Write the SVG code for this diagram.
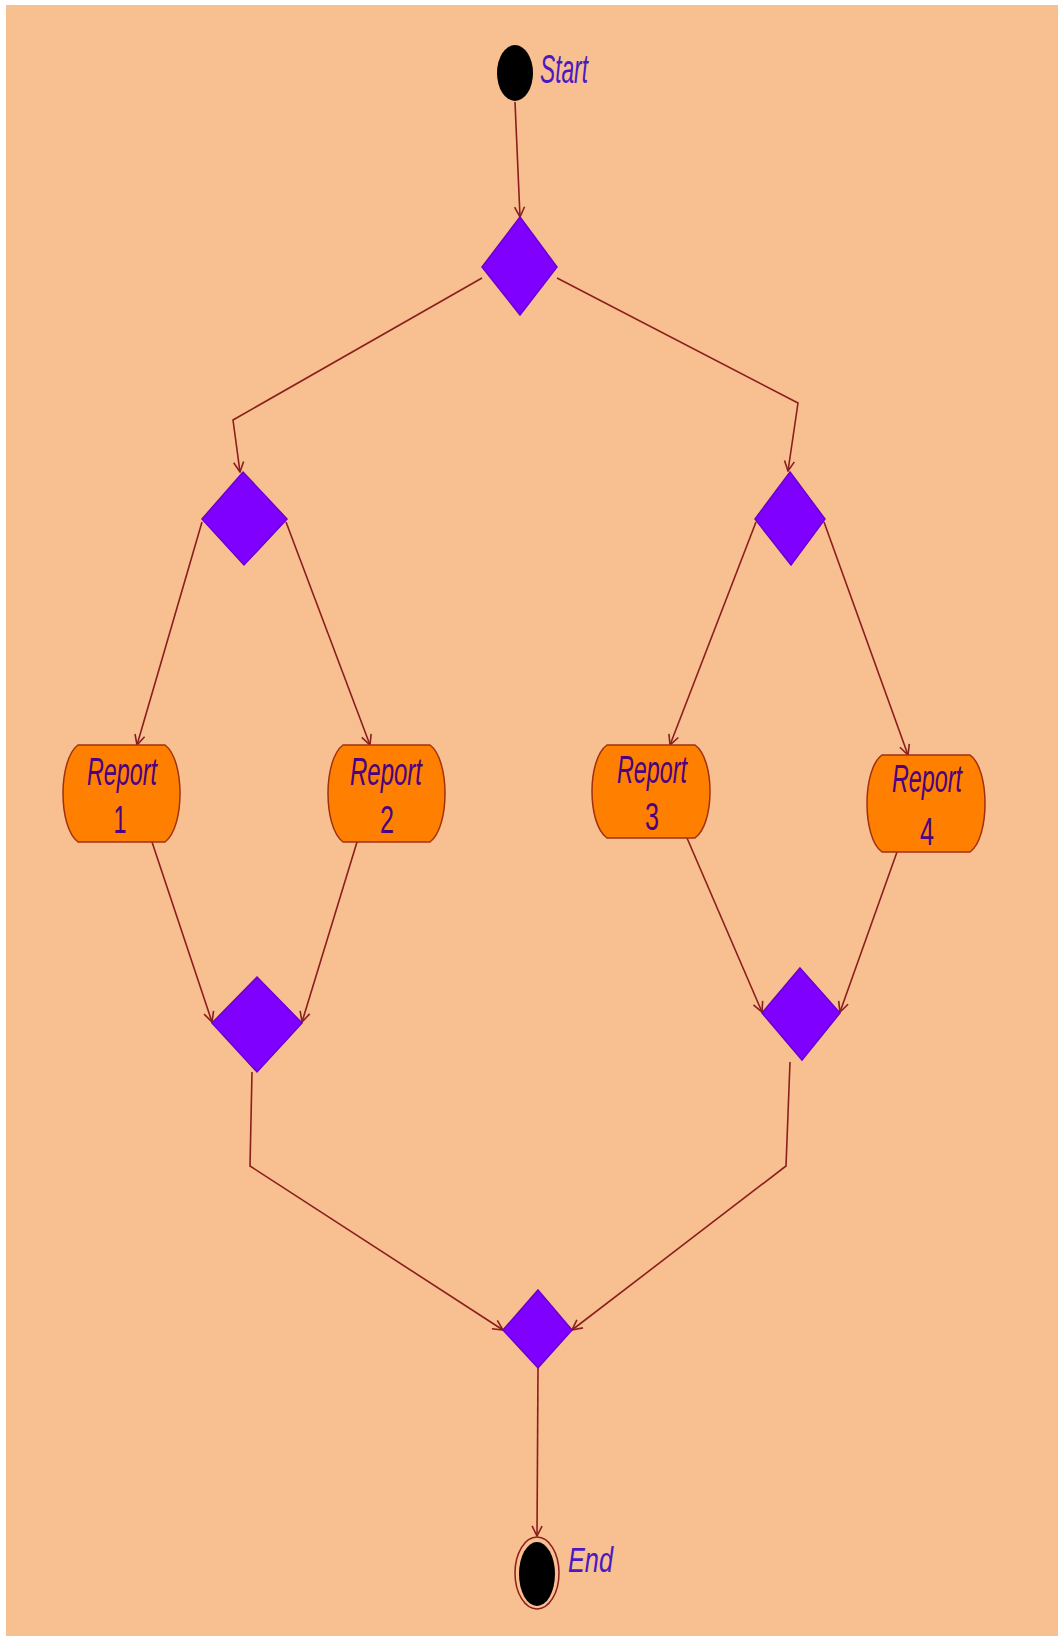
<svg xmlns="http://www.w3.org/2000/svg" width="1058" height="1636" viewBox="0 0 1058 1636">
<defs>
<style>
.bg{fill:#F8BF90}
.dia{fill:#8000FF;stroke:#6A00D0;stroke-width:1.5}
.act{fill:#FF8000;stroke:#A03010;stroke-width:1.5}
.edge{fill:none;stroke:#8B1E1E;stroke-width:1.6}
.lbl{font-family:"Liberation Sans",Arial,sans-serif;font-style:italic;fill:#4A1AC0}
.rt{font-family:"Liberation Sans",Arial,sans-serif;fill:#4A0080;text-anchor:middle}
.it{font-style:italic}
</style>
<marker id="arr" viewBox="0 0 12 12" refX="11" refY="6" markerWidth="12" markerHeight="12" markerUnits="userSpaceOnUse" orient="auto">
<path d="M1,1 L11,6 L1,11" fill="none" stroke="#8B1E1E" stroke-width="1.6"/>
</marker>
</defs>
<rect x="0" y="0" width="1058" height="1636" fill="#FFFFFF"/>
<rect class="bg" x="6" y="5" width="1052" height="1631"/>

<g id="connectors">
<polyline class="edge" points="515,102 520,217" marker-end="url(#arr)"/>
<polyline class="edge" points="482,278 233,420 240,472" marker-end="url(#arr)"/>
<polyline class="edge" points="557,278 798,403 788,471" marker-end="url(#arr)"/>
<polyline class="edge" points="202,522 137,745" marker-end="url(#arr)"/>
<polyline class="edge" points="286,522 370,745" marker-end="url(#arr)"/>
<polyline class="edge" points="756,522 670,745" marker-end="url(#arr)"/>
<polyline class="edge" points="824,522 908,755" marker-end="url(#arr)"/>
<polyline class="edge" points="152,842 212,1022" marker-end="url(#arr)"/>
<polyline class="edge" points="357,842 302,1022" marker-end="url(#arr)"/>
<polyline class="edge" points="687,838 762,1012" marker-end="url(#arr)"/>
<polyline class="edge" points="897,852 840,1012" marker-end="url(#arr)"/>
<polyline class="edge" points="252,1072 250,1166 503,1330" marker-end="url(#arr)"/>
<polyline class="edge" points="790,1062 786,1166 572,1330" marker-end="url(#arr)"/>
<polyline class="edge" points="538,1368 537,1536" marker-end="url(#arr)"/>
</g>

<g id="start">
<ellipse cx="515" cy="73" rx="18" ry="28" fill="#000000"/>
<text class="lbl" x="540" y="83" font-size="40" textLength="48" lengthAdjust="spacingAndGlyphs">Start</text>
</g>

<g id="fork-top"><polygon class="dia" points="520,217 557,267 520,315 482,267"/></g>
<g id="fork-left"><polygon class="dia" points="243,472 287,519 244,565 202,519"/></g>
<g id="fork-right"><polygon class="dia" points="790,472 825,519 791,565 755,519"/></g>

<g id="report1">
<path class="act" d="M78,745 H165 C185,760 185,827 165,842 H78 C58,827 58,760 78,745 Z"/>
<text class="rt it" x="122" y="785" font-size="38" textLength="70" lengthAdjust="spacingAndGlyphs">Report</text>
<text class="rt" x="120" y="833" font-size="38" textLength="13" lengthAdjust="spacingAndGlyphs">1</text>
</g>
<g id="report2">
<path class="act" d="M343,745 H430 C450,760 450,827 430,842 H343 C323,827 323,760 343,745 Z"/>
<text class="rt it" x="386" y="785" font-size="38" textLength="72" lengthAdjust="spacingAndGlyphs">Report</text>
<text class="rt" x="387" y="833" font-size="38" textLength="14" lengthAdjust="spacingAndGlyphs">2</text>
</g>
<g id="report3">
<path class="act" d="M607,745 H695 C715,759 715,824 695,838 H607 C587,824 587,759 607,745 Z"/>
<text class="rt it" x="652" y="783" font-size="38" textLength="70" lengthAdjust="spacingAndGlyphs">Report</text>
<text class="rt" x="652" y="830" font-size="38" textLength="14" lengthAdjust="spacingAndGlyphs">3</text>
</g>
<g id="report4">
<path class="act" d="M882,755 H970 C990,769 990,838 970,852 H882 C862,838 862,769 882,755 Z"/>
<text class="rt it" x="927" y="792" font-size="38" textLength="70" lengthAdjust="spacingAndGlyphs">Report</text>
<text class="rt" x="927" y="845" font-size="38" textLength="14" lengthAdjust="spacingAndGlyphs">4</text>
</g>

<g id="join-left"><polygon class="dia" points="257,977 302,1023 257,1072 212,1023"/></g>
<g id="join-right"><polygon class="dia" points="800,968 840,1013 802,1060 762,1013"/></g>
<g id="join-final"><polygon class="dia" points="538,1290 572,1330 538,1368 503,1330"/></g>

<g id="end">
<ellipse cx="537" cy="1573" rx="22" ry="36" fill="none" stroke="#8B1E1E" stroke-width="1.5"/>
<ellipse cx="537" cy="1574" rx="18" ry="32" fill="#000000"/>
<text class="lbl" x="568" y="1572" font-size="35" textLength="45" lengthAdjust="spacingAndGlyphs">End</text>
</g>
</svg>
